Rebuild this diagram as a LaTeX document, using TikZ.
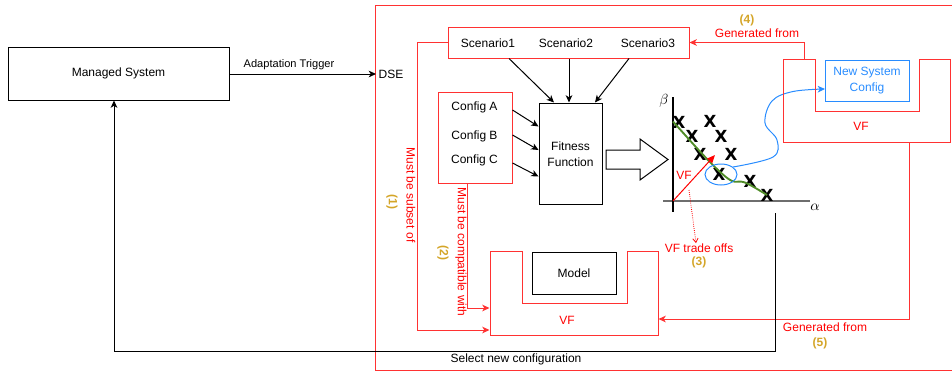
\documentclass[tikz,border=0pt]{standalone}
\usepackage{fontspec}
\setmainfont{Liberation Sans}
\newfontfamily\xfont{DejaVu Sans}
\usetikzlibrary{arrows.meta,fit,shapes.geometric}
\definecolor{dred}{RGB}{255,0,0}
\definecolor{fred}{RGB}{255,50,50}
\definecolor{gold}{RGB}{212,165,40}
\definecolor{dblue}{RGB}{40,140,255}
\definecolor{dgreen}{RGB}{80,140,40}
\definecolor{axgray}{RGB}{110,110,110}
\begin{document}
\begin{tikzpicture}[x=0.75pt,y=-0.75pt,line width=0.75pt,
  font=\fontsize{9}{11}\selectfont,
  every node/.style={inner sep=0pt},
  blk/.style={draw=black,line width=0.75pt},
  rbox/.style={draw=fred,line width=0.75pt},
  rline/.style={draw=fred,line width=0.75pt},
  arr/.style={-{Stealth[length=5.5pt,width=5pt,inset=1.6pt]}},
  elbl/.style={font=\fontsize{8.3}{10}\selectfont},
  rtxt/.style={text=dred},
  gtxt/.style={text=gold,font=\fontsize{9}{11}\selectfont\bfseries},
  xm/.style={font=\xfont\bfseries\fontsize{12.5}{12.5}\selectfont}]
\useasboundingbox (0,0) rectangle (952,372);

% outer DSE frame (right side clipped off)
\draw[rline] (952,5) -- (375,5) -- (375,370) -- (952,370);

% Managed system
\node[blk,fit={(8,47)(229,100)}] (ms) {};
\node (mst) at (ms.center) {Managed System};
\node (dse) at (391,74) {DSE};
\coordinate (dsein) at (376,74);
\draw[blk,arr] (ms.east |- 0,74) -- (dsein);
\node[elbl] (atl) at (289,65) {Adaptation Trigger};

% Scenario box
\node[rbox,fit={(448,27)(689,58)}] (sc) {};
\node (s1) at (488,43) {Scenario1};
\node (s2) at (566,43) {Scenario2};
\node (s3) at (648,43) {Scenario3};

% Config box
\node[rbox,fit={(438,92)(512,183)}] (cfg) {};
\node (ca) at (474.5,107) {Config A};
\node (cb) at (474.5,136) {Config B};
\node (cc) at (474.5,160) {Config C};

% Fitness function
\node[blk,fit={(539,103)(602,204)}] (ff) {};
\node[align=center] (fft) at (570.5,154) {Fitness\\[1pt]Function};

% arrows into fitness
\draw[blk,arr] (sc.south -| 509,0) -- (ff.north -| 554,0);
\draw[blk,arr] (sc.south -| 569,0) -- (ff.north -| 569,0);
\draw[blk,arr] (sc.south -| 629,0) -- (ff.north -| 595,0);
\draw[blk,arr] (cfg.east |- 0,110) -- (ff.west |- 0,126.5);
\draw[blk,arr] (cfg.east |- 0,135) -- (ff.west |- 0,150);
\draw[blk,arr] (cfg.east |- 0,163) -- (ff.west |- 0,176.5);

% big hollow arrow
\draw[blk] (606,150) -- (640,150) -- (640,139) -- (668,159.5) -- (640,180) -- (640,169) -- (606,169) -- cycle;

% chart
\draw[axgray,line width=1.6pt] (663,201) -- (810,201);
\draw[black,line width=0.9pt] (673,97) -- (673,212);
\node[font=\fontsize{10.5}{12}\selectfont] (beta) at (664,101) {$\beta$};
\node[font=\fontsize{10.5}{12}\selectfont] (alpha) at (815,207) {$\alpha$};
\foreach \p [count=\i] in {(679,122),(710,121),(692,136),(721,136),(700,154),(731,154),(719,174),(750,181),(767,195)}
  \node[xm] (x\i) at \p {X};
\draw[dgreen,line width=1.4pt] plot[smooth,tension=0.6] coordinates {(673,121.5) (700,151.5) (718,170) (732,181) (745,182.5) (767,195)};
\coordinate (orig) at (673,201);
\coordinate (vftip) at (715,155);
\draw[dred,line width=0.75pt,-{Triangle[length=6pt,width=5pt]}] (orig) -- (vftip);
\node[rtxt] (vfl) at (684,175) {VF};
\coordinate (dots) at (689,190);
\node[rtxt] (vfto) at (699,248) {VF trade offs};
\node[gtxt] (n3) at (699,262) {(3)};
\draw[dred,densely dotted,line width=0.6pt,-{Straight Barb[length=3pt,width=4pt]}] (dots) -- (vfto.north -| 696,0) ;

% blue ellipse + new system config
\node[draw=dblue,ellipse,line width=0.75pt,minimum width=24pt,minimum height=15.75pt] (ell) at (721,174.5) {};
\node[draw=dblue,line width=0.75pt,fit={(825,60)(909,101)}] (nsc) {};
\node[text=dblue,align=center] (nsct) at (867,80.5) {New System\\[1pt]Config};
\coordinate (bstart) at (733,167);
\coordinate (bend) at (825,89);
\draw[dblue,line width=0.75pt,arr] plot[smooth,tension=0.6] coordinates {(bstart) (773,157) (777,140) (765,123) (772,101) (793,91.5) (bend)};

% VF U-shape top right
\node[fit={(783,59)(950,142)}] (vf2) {};
\draw[rline] (783,59) -- (815,59) -- (815,111) -- (919,111) -- (919,59) -- (950,59) -- (950,142) -- (783,142) -- cycle;
\node[rtxt] (vf2t) at (861,126) {VF};

% VF U-shape bottom + model
\node[fit={(490,251)(658,335)}] (vf1) {};
\draw[rline] (490,251) -- (522,251) -- (522,303) -- (627,303) -- (627,251) -- (658,251) -- (658,335) -- (490,335) -- cycle;
\node[rtxt] (vf1t) at (567,320) {VF};
\node[blk,fit={(532,252)(616,294)}] (model) {};
\node (modelt) at (model.center) {Model};

% generated from (4)
\draw[rline,arr] (vf2.north -| 804,0) |- (sc.east);
\node[rtxt] (g4) at (757,33) {Generated from};
\node[gtxt] (n4) at (747,20) {(4)};

% generated from (5)
\draw[rline,arr] (vf2.south -| 909,0) |- (vf1.east |- 0,319);
\node[rtxt] (g5) at (825,327) {Generated from};
\node[gtxt] (n5) at (820,343) {(5)};

% must be subset of (1)
\draw[rline,arr] (sc.west) -- (417,42.5) |- (vf1.west |- 0,330);
\node[rtxt,rotate=-90] (l1) at (411,195) {Must be subset of};
\node[gtxt,rotate=-90] (n1) at (392,202) {(1)};

% must be compatible with (2)
\draw[rline,arr] (cfg.south -| 467,0) |- (vf1.west |- 0,308);
\node[rtxt,rotate=-90] (l2) at (461,252) {Must be compatible with};
\node[gtxt,rotate=-90] (n2) at (443,253) {(2)};

% select new configuration
\coordinate (selstart) at (775,213);
\draw[blk,arr] (selstart) |- (114,351) -- (ms.south -| 114,0);
\node (selt) at (516,359) {Select new configuration};
\end{tikzpicture}
\end{document}
